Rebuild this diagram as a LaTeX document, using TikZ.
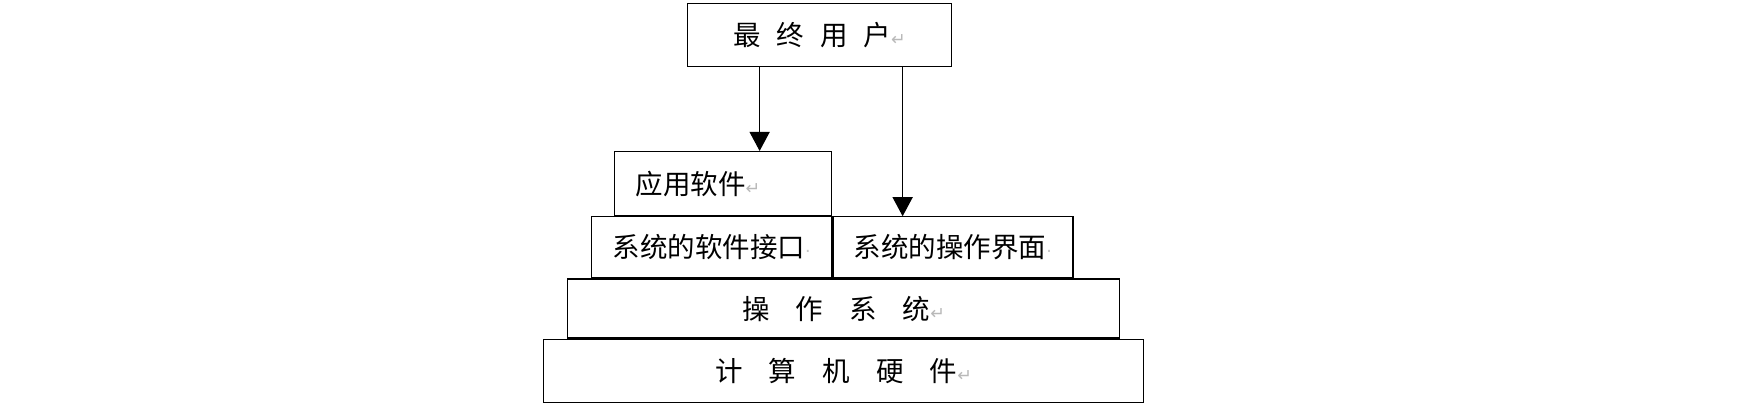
\documentclass[tikz,border=0pt]{standalone}
\usepackage{fontspec}
\usepackage{tikz}
\usetikzlibrary{arrows.meta,positioning}
\newfontfamily\cjk{Noto Sans CJK SC}
\newfontfamily\symfont{DejaVu Sans}
\newcommand\pmark{{\symfont\color{gray!55}\fontsize{7}{7}\selectfont ↵}}
\newcommand\pdot{{\symfont\color{gray!45}\fontsize{7}{7}\selectfont ·}}
\newcommand\wgap{\hspace{0.58em}}
\newcommand\wwgap{\hspace{0.95em}}

\begin{document}
\begin{tikzpicture}[font=\cjk\fontsize{11}{13}\selectfont, inner sep=0pt,
  box/.style={draw,line width=0.5pt,fill=white,align=center},
  arr/.style={-{Triangle[width=8pt,length=7.6pt]},line width=0.5pt}]
\useasboundingbox (0,0) rectangle (698.4pt,164.8pt);
\node[box,anchor=south west,minimum width=240pt,minimum height=25.2pt] (hw) at (217.2pt,3.6pt) {计\wwgap 算\wwgap 机\wwgap 硬\wwgap 件\pmark};
\node[box,above=0pt of hw,minimum width=220.8pt,minimum height=23.6pt] (os) {操\wwgap 作\wwgap 系\wwgap 统\pmark};
\node[box,above right=0pt and 9.6pt of os.north west,minimum width=96pt,minimum height=24.4pt] (sif) {系统的软件接口\pdot};
\node[box,right=0pt of sif,minimum width=96pt,minimum height=24.4pt] (ui) {系统的操作界面\pdot};
\node[box,above left=0pt and 0pt of sif.north east,minimum height=25.6pt,
  text width=70pt,inner xsep=8.4pt,align=left] (app) {应用软件\pmark};
\node[box,above right=33.6pt and 29.2pt of app.north west,minimum width=105.6pt,minimum height=25.2pt] (user) {最\wgap 终\wgap 用\wgap 户\pmark};
\draw[arr] ([xshift=-24pt]user.south) -- ([xshift=-24pt]user.south |- app.north);
\draw[arr] ([xshift=33.2pt]user.south) -- ([xshift=33.2pt]user.south |- ui.north);
\end{tikzpicture}
\end{document}
